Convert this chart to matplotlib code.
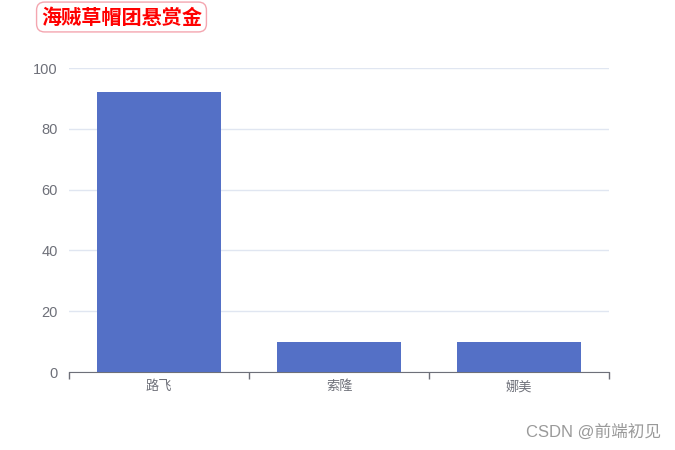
import matplotlib
matplotlib.use("Agg")
from matplotlib import pyplot as plt
import numpy as np

plt.rcParams['font.family'] = ['Noto Sans CJK SC', 'DejaVu Sans']

# data
names = ["路飞", "索隆", "娜美"]
bounty = [92, 10, 10]
yticks = [0, 20, 40, 60, 80, 100]

fig = plt.figure(figsize=(6.75, 4.5), dpi=100)
ax = fig.add_axes([69 / 675, 78 / 450, 540 / 675, 304 / 450])

x = np.arange(len(names))
ax.bar(x, bounty, width=0.69, color="#5470c6", zorder=3)

ax.set_xlim(-0.5, len(names) - 0.5)
ax.set_ylim(0, 100)
ax.set_yticks(yticks)
ax.set_yticklabels([str(v) for v in yticks], color="#6e7079", fontsize=10.5,
                   family=["Liberation Sans", "DejaVu Sans"])
ax.yaxis.grid(True, color="#e0e6f1", linewidth=1, zorder=0)
ax.tick_params(axis="y", length=0, pad=8)

# category labels centered, ticks on boundaries
ax.set_xticks(x)
ax.set_xticklabels(names, color="#6e7079", fontsize=9.5)
ax.tick_params(axis="x", which="major", length=0, pad=6)
ax.set_xticks(np.arange(-0.5, len(names)), minor=True)
ax.tick_params(axis="x", which="minor", length=5, color="#6e7079", width=1)

for s in ["top", "right", "left"]:
    ax.spines[s].set_visible(False)
ax.spines["bottom"].set_color("#6e7079")

fig.text(41 / 675, 1 - 17 / 450, "海贼草帽团悬赏金", color="red", fontsize=14.5,
         fontweight="bold", va="center", ha="left",
         bbox=dict(boxstyle="round,pad=0.22,rounding_size=0.4", fc="white", ec="#f4a6b0", lw=1))

fig.text(661 / 675, 1 - 432 / 450, "CSDN @前端初见", color="#9a9a9a", fontsize=12,
         ha="right", va="center", family=["Liberation Sans", "Noto Sans CJK SC"])

plt.savefig("out.png", dpi=100)
